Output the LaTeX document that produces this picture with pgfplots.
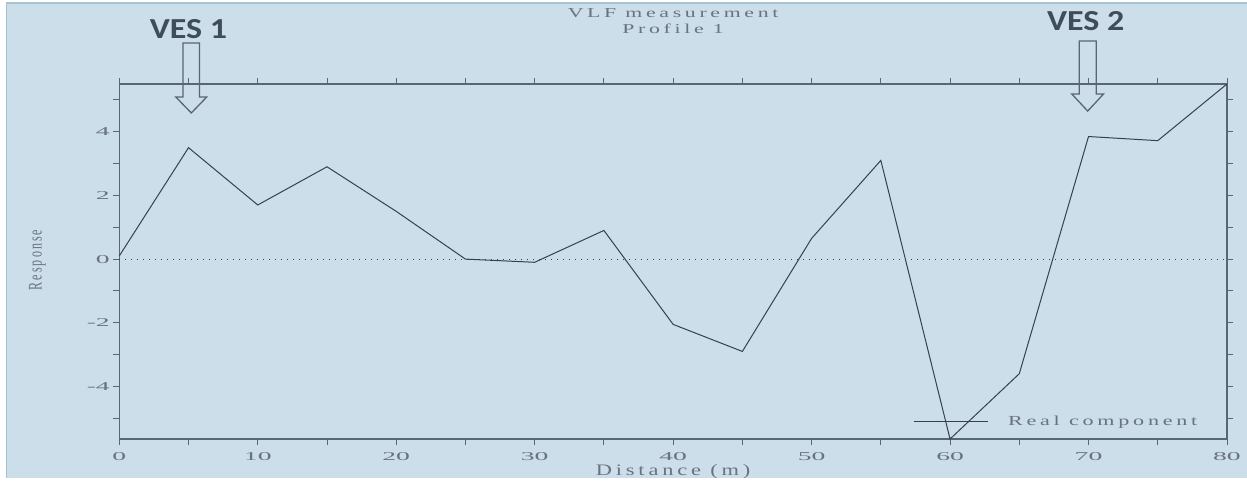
\documentclass[border=0pt]{standalone}
\usepackage{pgfplots}
\pgfplotsset{compat=1.18}
\usepackage{fontspec}
\setmainfont{Liberation Serif}
\newfontfamily\chartfont[LetterSpace=17]{Liberation Serif}
\newfontfamily\calloutfont{Carlito}
\definecolor{panel}{HTML}{CCDEEA}
\definecolor{paneledge}{HTML}{A6C3D4}
\definecolor{axisgray}{HTML}{5A6670}
\definecolor{labelgray}{HTML}{68737D}
\definecolor{curve}{HTML}{37414B}
\definecolor{callout}{HTML}{3F4C59}
% wide, tracked serif used for the chart's own lettering
\newcommand{\st}[1]{\scalebox{1.6}[1]{\chartfont #1}}
\newcommand{\tk}[1]{\scalebox{2.3}[1]{#1}}

% VLF profile 1: distance (m) vs. real-component response
\pgfplotstableread{
x     y
0     0.1
5     3.5
10    1.7
15    2.9
20    1.5
25    0.0
30   -0.1
35    0.9
40   -2.05
45   -2.9
50    0.65
55    3.1
60   -5.65
65   -3.6
70    3.85
75    3.72
80    5.5
}\profile

\begin{document}
\begin{tikzpicture}
\fill[panel] (-112.8pt,-39pt) rectangle (1127.7pt,436pt);
\draw[paneledge, line width=1.4pt] (-112.8pt,-39pt) -- (-112.8pt,436pt) -- (1127.7pt,436pt);
\begin{axis}[
  at={(0pt,0pt)}, anchor=south west,
  scale only axis, width=1107.7pt, height=355pt,
  xmin=0, xmax=80, ymin=-5.65, ymax=5.5,
  axis line style={axisgray, line width=1.1pt},
  tick style={axisgray, line width=0.9pt},
  tick align=outside, major tick length=6pt, minor tick length=6pt,
  xtick={0,10,...,80}, minor x tick num=1,
  ytick={-4,-2,0,2,4}, minor ytick={-5,-3,-1,1,3,5},
  xticklabels={\tk{0},\tk{10},\tk{20},\tk{30},\tk{40},\tk{50},\tk{60},\tk{70},\tk{80}},
  yticklabels={\tk{-4},\tk{-2},\tk{0},\tk{2},\tk{4}},
  tick label style={font=\fontsize{12}{14}\selectfont, text=labelgray},
  xticklabel style={yshift=-4pt},
  clip=false,
  legend style={draw=none, fill=none, at={(rel axis cs:0.7165,0.0487)}, anchor=west,
    inner sep=0pt, nodes={inner sep=0pt, text=labelgray, font=\fontsize{13.8}{16}\selectfont},
    column sep=20pt},
  legend image code/.code={\draw[#1] (0pt,0pt) -- (74pt,0pt);},
]
\addplot[curve, line width=0.9pt, dash pattern=on 1.1pt off 4.9pt, forget plot] coordinates {(0,0) (80,0)};
\addplot[curve, line width=1pt] table[x=x, y=y] {\profile};
\addlegendentry{\st{Real component}}

% title
\node[anchor=base, inner sep=0pt, text=labelgray, font=\fontsize{13.6}{16}\selectfont]
  at ([yshift=66.5pt]rel axis cs:0.5,1) {\st{VLF measurement}};
\node[anchor=base, inner sep=0pt, text=labelgray, font=\fontsize{13.6}{16}\selectfont]
  at ([yshift=50.5pt]rel axis cs:0.5,1) {\st{Profile 1}};
% axis labels
\node[anchor=base, inner sep=0pt, text=labelgray, font=\fontsize{16}{18}\selectfont]
  at ([yshift=-36.8pt]rel axis cs:0.5,0) {\scalebox{1.4}[1]{\chartfont Distance (m)}};
\node[rotate=90, inner sep=0pt, text=labelgray, font=\fontsize{12}{14}\selectfont]
  at ([xshift=-81.8pt, yshift=1.5pt]rel axis cs:0,0.5) {\scalebox{1}[1.6]{\chartfont Response}};

% sounding locations
\node[text=callout, font=\calloutfont\bfseries\fontsize{29}{32}\selectfont, inner sep=0pt]
  at (axis cs:5,7.23) {\scalebox{1.17}[1]{VES 1}};
\node[text=callout, font=\calloutfont\bfseries\fontsize{29}{32}\selectfont, inner sep=0pt]
  at (axis cs:69.8,7.48) {\scalebox{1.17}[1]{VES 2}};
\draw[axisgray, line width=1.3pt, line join=miter, shift={(axis cs:5.2,4.59)}]
  (0pt,0pt) -- (15.5pt,16pt) -- (8.2pt,16pt) -- (8.2pt,70pt) -- (-8.2pt,70pt)
  -- (-8.2pt,16pt) -- (-15.5pt,16pt) -- cycle;
\draw[axisgray, line width=1.3pt, line join=miter, shift={(axis cs:69.94,4.65)}]
  (0pt,0pt) -- (15.8pt,17pt) -- (8.5pt,17pt) -- (8.5pt,70pt) -- (-8.5pt,70pt)
  -- (-8.5pt,17pt) -- (-15.8pt,17pt) -- cycle;
\end{axis}
\fill[white] (-119.3pt,-43pt) rectangle (1127.7pt,-39pt);
\pgfresetboundingbox
\path[use as bounding box] (-119.3pt,-43pt) rectangle (1127.7pt,439pt);
\end{tikzpicture}
\end{document}
